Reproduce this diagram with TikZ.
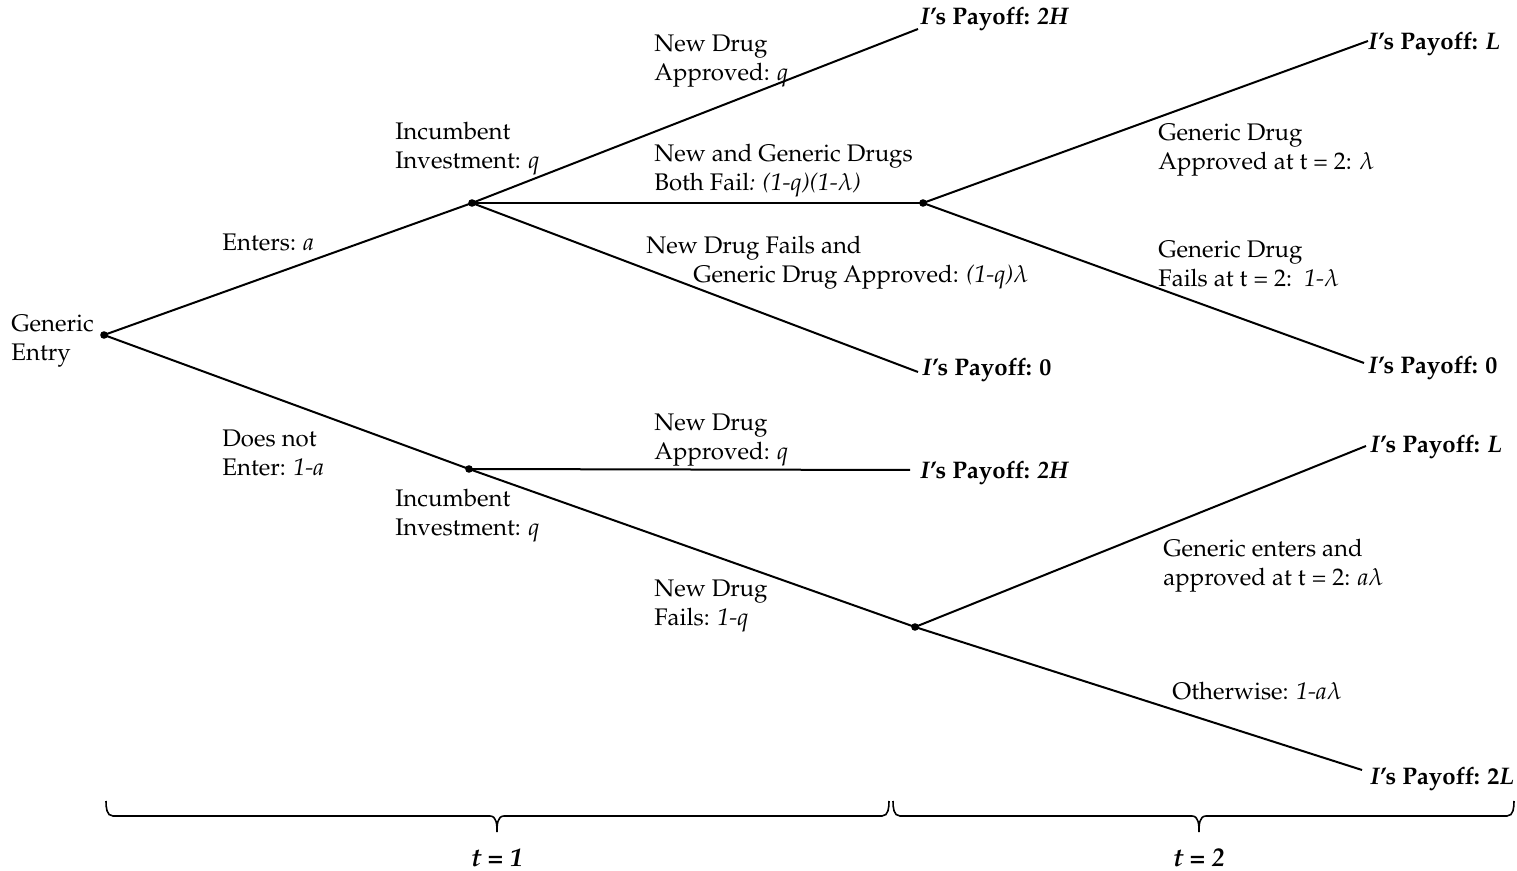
\documentclass[tikz,border=0pt]{standalone}
\usepackage[T1]{fontenc}
\usepackage{mathpazo}
\begin{document}
\begin{tikzpicture}[x=0.5pt,y=-0.5pt,
  branch/.style={line width=1pt},
  brc/.style={line width=0.8pt},
  lbl/.style={anchor=west, inner sep=0pt, align=left, font=\fontsize{12}{14.5}\selectfont},
  pay/.style={anchor=west, inner sep=0pt, font=\fontsize{12}{14.5}\selectfont\bfseries},
  tlab/.style={inner sep=0pt, font=\fontsize{13}{15}\selectfont\bfseries\itshape}]
\useasboundingbox (0,0) rectangle (1517,871);
% tree points
\coordinate (root) at (104,335);
\coordinate (A) at (472,203);
\coordinate (B) at (923,203);
\coordinate (C) at (469,469);
\coordinate (D) at (915,627);
\coordinate (e1) at (918,29);
\coordinate (e2) at (918,372);
\coordinate (e3) at (1368,41);
\coordinate (e4) at (1364,363);
\coordinate (e5) at (910,470);
\coordinate (e6) at (1366,446);
\coordinate (e7) at (1362,770);
% branches
\draw[branch] (root) -- (A);
\draw[branch] (root) -- (C);
\draw[branch] (A) -- (e1);
\draw[branch] (A) -- (B);
\draw[branch] (A) -- (e2);
\draw[branch] (B) -- (e3);
\draw[branch] (B) -- (e4);
\draw[branch] (C) -- (e5);
\draw[branch] (C) -- (D);
\draw[branch] (D) -- (e6);
\draw[branch] (D) -- (e7);
\foreach \p in {root,A,B,C,D} \fill (\p) circle (1.9pt);
% labels
\node[lbl] (lroot) at (11,341) {Generic\\Entry};
\node[lbl] (lent) at (222,242) {Enters: \textit{a}};
\node[lbl] (linv1) at (395,149) {Incumbent\\Investment: \textit{q}};
\node[lbl] (lapp1) at (654,61) {New Drug\\Approved: \textit{q}};
\node[lbl] (lboth) at (654,171) {New and Generic Drugs\\Both Fail\textit{: (1-q)(1-$\lambda$)}};
\node[lbl] (lfail1) at (646,263) {New Drug Fails and\\\hspace*{23.5pt}Generic Drug Approved: \textit{(1-q)$\lambda$}};
\node[lbl] (lgapp) at (1158,150) {Generic Drug\\Approved at t = 2: $\lambda$};
\node[lbl] (lgfail) at (1158,264) {Generic Drug\\Fails at t = 2:\ \ \textit{1-$\lambda$}};
\node[lbl] (lnot) at (222,453) {Does not\\Enter: \textit{1-a}};
\node[lbl] (lapp2) at (654,440) {New Drug\\Approved: \textit{q}};
\node[lbl] (linv2) at (395,516) {Incumbent\\Investment: \textit{q}};
\node[lbl] (lfail2) at (654,606) {New Drug\\Fails: \textit{1-q}};
\node[lbl] (lgent) at (1163,566) {Generic enters and\\approved at t = 2: \textit{a}$\lambda$};
\node[lbl] (lother) at (1172,691) {Otherwise: \textit{1-a}$\lambda$};
% payoffs
\node[pay] (p1) at (920,19) {\textit{I}'s Payoff: \textit{2H}};
\node[pay] (p2) at (922,370) {\textit{I}'s Payoff: 0};
\node[pay] (p3) at (1368,44) {\textit{I}'s Payoff: \textit{L}};
\node[pay] (p4) at (1368,368) {\textit{I}'s Payoff: 0};
\node[pay] (p5) at (920,473) {\textit{I}'s Payoff: \textit{2H}};
\node[pay] (p6) at (1370,447) {\textit{I}'s Payoff: \textit{L}};
\node[pay] (p7) at (1370,779) {\textit{I}'s Payoff: 2\textit{L}};
% braces
\draw[brc] (106,801) to[out=-90,in=180] (113,816) -- (490,816) to[out=0,in=90] (497,832)
  to[out=90,in=180] (504,816) -- (882,816) to[out=0,in=-90] (889,801);
\draw[brc] (893,801) to[out=-90,in=180] (900,816) -- (1192,816) to[out=0,in=90] (1199,832)
  to[out=90,in=180] (1206,816) -- (1507,816) to[out=0,in=-90] (1514,801);
\node[tlab] (t1) at (497,858) {t = 1};
\node[tlab] (t2) at (1199,858) {t = 2};
\end{tikzpicture}
\end{document}
